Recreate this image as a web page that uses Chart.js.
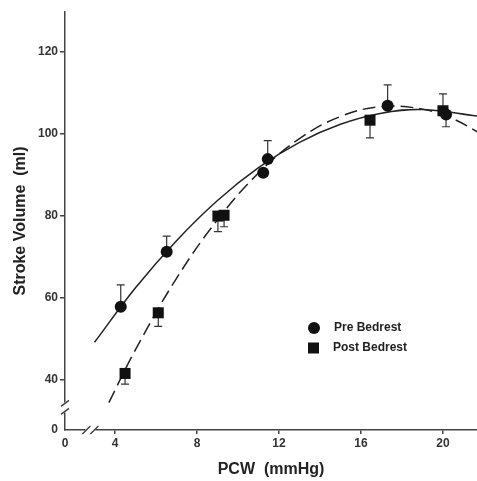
<!DOCTYPE html>
<html>
<head>
<meta charset="utf-8">
<script src="https://cdn.jsdelivr.net/npm/chart.js@4.4.1/dist/chart.umd.min.js"></script>
<style>
  html, body { margin: 0; padding: 0; background: #fff; }
</style>
</head>
<body>
<canvas id="myChart" width="477" height="481"></canvas>
<script>
// measured points (mean) and one-sided error bars (+ up, - down)
const preX = [4.28, 6.52, 11.23, 11.45, 17.3, 20.15];
const preY = [57.9, 71.3, 90.6, 93.9, 106.9, 104.8];
const preErr = [5.3, 3.8, 0, 4.5, 5.1, -3.0];

const postX = [4.49, 6.11, 9.02, 9.32, 16.44, 20.0];
const postY = [41.6, 56.4, 80.0, 80.2, 103.4, 105.7];
const postErr = [-2.6, -3.3, -3.8, -2.8, -4.3, 4.1];

// fitted curves
const preFitX = [3, 5, 7, 9, 11, 13, 15, 17, 19, 21.7];
const preFitY = [49.2, 62.5, 74.0, 83.8, 91.8, 98.0, 102.4, 105.1, 106.0, 104.4];
const postFitX = [3.7, 5, 7, 9, 11, 13, 15, 17, 19, 20.5, 21.7];
const postFitY = [34.5, 47.4, 64.8, 79.1, 90.5, 98.9, 104.3, 106.7, 106.1, 103.7, 100.5];

const xTicks = [4, 8, 12, 16, 20];
const yTicks = [40, 60, 80, 100, 120];

// broken axes: the lowest value is shown as "0"
const xMin = 1.56, xMax = 21.66, xBreak = 2.8;
const yMin = 27.8, yMax = 129.8, yBreak = 33.3;

const ink = '#222';
const axisColor = '#444';
const tickFont = { family: 'Liberation Sans, Arial, sans-serif', size: 12, weight: 'bold' };
const titleFont = { family: 'Liberation Sans, Arial, sans-serif', size: 16, weight: 'bold' };

const pts = (xs, ys) => xs.map((v, i) => ({ x: v, y: ys[i] }));

const extras = {
  id: 'extras',
  beforeDatasetsDraw(chart) {
    const { ctx, scales: { x, y } } = chart;
    ctx.save();
    ctx.strokeStyle = '#333';
    ctx.lineWidth = 1.2;
    const bars = (xs, ys, errs) => xs.forEach((v, i) => {
      if (!errs[i]) return;
      const px = x.getPixelForValue(v);
      const p0 = y.getPixelForValue(ys[i]);
      const p1 = y.getPixelForValue(ys[i] + errs[i]);
      ctx.beginPath();
      ctx.moveTo(px, p0);
      ctx.lineTo(px, p1);
      ctx.moveTo(px - 4, p1);
      ctx.lineTo(px + 4, p1);
      ctx.stroke();
    });
    bars(preX, preY, preErr);
    bars(postX, postY, postErr);
    ctx.restore();
  },
  afterDraw(chart) {
    const { ctx, chartArea: a, scales: { x, y } } = chart;
    ctx.save();
    // axis breaks
    const by = y.getPixelForValue(yBreak);
    const bx = x.getPixelForValue(xBreak);
    ctx.fillStyle = '#fff';
    ctx.fillRect(a.left - 2, by - 5, 4, 10);
    ctx.fillRect(bx - 5, a.bottom - 2, 10, 4);
    ctx.strokeStyle = axisColor;
    ctx.lineWidth = 1.5;
    ctx.beginPath();
    [-4, 4].forEach(d => {
      ctx.moveTo(a.left - 4, by + d + 3);
      ctx.lineTo(a.left + 4, by + d - 3);
      ctx.moveTo(bx + d - 4, a.bottom + 4);
      ctx.lineTo(bx + d + 4, a.bottom - 4);
    });
    ctx.stroke();

    // legend
    const lx = 314, ly = 328;
    ctx.fillStyle = '#111';
    ctx.beginPath();
    ctx.arc(lx, ly, 6, 0, Math.PI * 2);
    ctx.fill();
    ctx.fillRect(lx - 6, ly + 20 - 5.5, 11, 11);
    ctx.font = 'bold 12px Liberation Sans, Arial, sans-serif';
    ctx.fillStyle = ink;
    ctx.textBaseline = 'middle';
    ctx.fillText(chart.data.datasets[0].label, lx + 20, ly);
    ctx.fillText(chart.data.datasets[1].label, lx + 19, ly + 20);
    ctx.restore();
  }
};

const ctx = document.getElementById('myChart');

new Chart(ctx, {
  type: 'scatter',
  data: {
    datasets: [
      {
        label: 'Pre Bedrest',
        data: pts(preX, preY),
        pointStyle: 'circle',
        pointRadius: 6,
        backgroundColor: '#111',
        borderColor: '#111',
        borderWidth: 0
      },
      {
        label: 'Post Bedrest',
        data: pts(postX, postY),
        pointStyle: 'rect',
        pointRadius: 7.8,
        backgroundColor: '#111',
        borderColor: '#111',
        borderWidth: 0
      },
      {
        label: 'Pre fit',
        data: pts(preFitX, preFitY),
        showLine: true,
        pointRadius: 0,
        borderColor: ink,
        borderWidth: 1.5,
        tension: 0.4
      },
      {
        label: 'Post fit',
        data: pts(postFitX, postFitY),
        showLine: true,
        pointRadius: 0,
        borderColor: ink,
        borderWidth: 1.5,
        borderDash: [13, 6],
        tension: 0.4
      }
    ]
  },
  options: {
    responsive: false,
    animation: false,
    layout: { autoPadding: false, padding: { top: 12, left: 0, right: 0, bottom: 0 } },
    plugins: {
      legend: { display: false },
      tooltip: { enabled: false }
    },
    scales: {
      x: {
        type: 'linear',
        min: xMin,
        max: xMax,
        afterBuildTicks: s => { s.ticks = [xMin, ...xTicks].map(v => ({ value: v })); },
        afterFit: s => { s.height = 51; s.paddingLeft = 0; s.paddingRight = 0; },
        ticks: {
          callback: v => v === xMin ? '0' : v,
          font: tickFont,
          color: '#333',
          padding: 2,
          maxRotation: 0,
          autoSkip: false
        },
        grid: {
          drawOnChartArea: false,
          tickLength: 4,
          lineWidth: 1.5,
          color: c => c.index === 0 ? 'rgba(0,0,0,0)' : axisColor
        },
        border: { color: axisColor, width: 1.5 },
        title: {
          display: true,
          text: 'PCW  (mmHg)',
          font: titleFont,
          color: ink,
          padding: { top: 0, bottom: 1.4 }
        }
      },
      y: {
        type: 'linear',
        min: yMin,
        max: yMax,
        afterBuildTicks: s => { s.ticks = [yMin, ...yTicks].map(v => ({ value: v })); },
        afterFit: s => { s.width = 65; s.paddingTop = 0; s.paddingBottom = 0; },
        ticks: {
          callback: v => v === yMin ? '0' : v,
          font: tickFont,
          color: '#333',
          padding: 2,
          autoSkip: false
        },
        grid: {
          drawOnChartArea: false,
          tickLength: 5,
          lineWidth: 1.5,
          color: c => c.index === 0 ? 'rgba(0,0,0,0)' : axisColor
        },
        border: { color: axisColor, width: 1.5 },
        title: {
          display: true,
          text: 'Stroke Volume  (ml)',
          font: titleFont,
          color: ink,
          padding: { top: 11, bottom: 0 }
        }
      }
    }
  },
  plugins: [extras]
});
</script>
</body>
</html>
